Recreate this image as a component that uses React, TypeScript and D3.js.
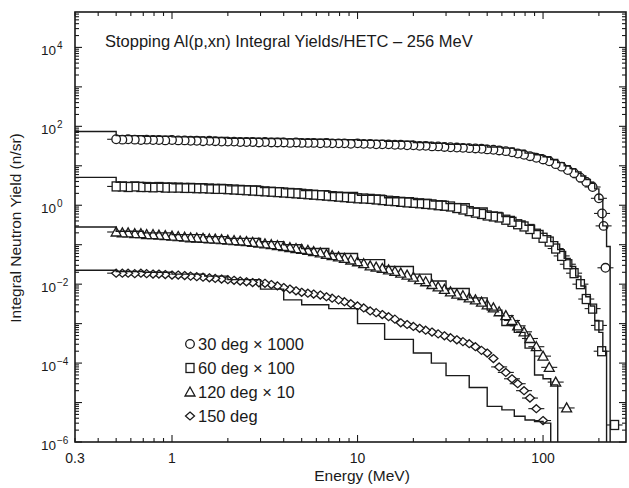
import React from 'react';
import * as d3 from 'd3';

// Stopping-target Al(p,xn) integral neutron yields at 256 MeV, measured vs. HETC

const WIDTH = 629;
const HEIGHT = 488;
const PLOT = { left: 75, right: 626, top: 12, bottom: 442 };

const X_DOMAIN = [0.3, 280];
const Y_DOMAIN = [1e-6, 7.9e4];

const X_TICK_LABELS = [0.3, 1, 10, 100];
const Y_TICK_EXPONENTS = [-6, -4, -2, 0, 2, 4];

// measured energy bins (MeV)
const ENERGY = [
  0.50, 0.54, 0.58, 0.63, 0.68, 0.73, 0.79, 0.85, 0.92, 1.0,
  1.08, 1.17, 1.26, 1.36, 1.47, 1.59, 1.71, 1.85, 2.0, 2.16,
  2.33, 2.52, 2.72, 2.94, 3.17, 3.43, 3.70, 4.0, 4.32, 4.66,
  5.0, 5.4, 5.8, 6.3, 6.8, 7.3, 7.9, 8.5, 9.2, 10,
  10.8, 11.7, 12.6, 13.6, 14.7, 15.9, 17.1, 18.5, 20, 21.6,
  23.3, 25.2, 27.2, 29.4, 31.7, 34.3, 37.0, 40, 43.2, 46.6,
  50, 54, 58, 63, 68, 73, 79, 85, 92, 100,
  108, 117, 126, 136, 147, 159, 171, 185, 200,
];

// 30 deg x 1000
const YIELD_30 = [
  47, 46, 47, 46, 45, 46, 45, 45, 44, 45,
  44, 44, 43, 43, 42, 43, 42, 41, 41, 41,
  40, 40, 40, 39, 40, 39, 39, 39, 38, 39,
  38, 38, 38, 37, 38, 37, 37, 37, 36, 37,
  36, 36, 35, 35, 35, 34, 34, 33, 33, 32,
  32, 31, 31, 30, 29.5, 29, 28.5, 28, 27.5, 27,
  26, 25.5, 24.5, 23.5, 22, 20.5, 19, 17.5, 16, 14.5,
  13, 11, 9.5, 7.8, 6.5, 5.0, 3.9, 2.9, 1.5,
];
const TAIL_30: [number, number][] = [[208, 0.62], [212, 0.3], [217, 0.026]];

// 60 deg x 100
const YIELD_60 = [
  3.0, 3.0, 2.9, 3.0, 2.9, 2.9, 2.85, 2.9, 2.8, 2.8,
  2.8, 2.75, 2.75, 2.7, 2.7, 2.65, 2.6, 2.6, 2.55, 2.5,
  2.45, 2.4, 2.35, 2.3, 2.25, 2.2, 2.15, 2.1, 2.05, 2.0,
  1.95, 1.9, 1.85, 1.8, 1.75, 1.7, 1.65, 1.6, 1.55, 1.5,
  1.48, 1.45, 1.4, 1.35, 1.3, 1.27, 1.22, 1.18, 1.15, 1.12,
  1.08, 1.05, 1.0, 0.97, 0.93, 0.85, 0.78, 0.71, 0.65, 0.60,
  0.55, 0.52, 0.49, 0.43, 0.38, 0.33, 0.29, 0.25, 0.19, 0.15,
  0.12, 0.08, 0.052, 0.032, 0.019, 0.010, 0.0042, 0.0024, 0.0009,
];
const TAIL_60: [number, number][] = [[207, 0.0002], [243, 2.7e-6]];

// 120 deg x 10
const YIELD_120 = [
  0.21, 0.20, 0.20, 0.19, 0.19, 0.18, 0.18, 0.175, 0.17, 0.165,
  0.16, 0.155, 0.15, 0.148, 0.145, 0.14, 0.138, 0.135, 0.13, 0.127,
  0.124, 0.12, 0.115, 0.11, 0.105, 0.10, 0.095, 0.09, 0.085, 0.08,
  0.076, 0.072, 0.067, 0.062, 0.057, 0.053, 0.049, 0.045, 0.041, 0.037,
  0.033, 0.029, 0.027, 0.025, 0.023, 0.021, 0.019, 0.017, 0.015, 0.013,
  0.0115, 0.0098, 0.0085, 0.0074, 0.0064, 0.0056, 0.0051, 0.0045, 0.0040, 0.0035,
  0.0030, 0.0025, 0.0020, 0.0016, 0.0012, 0.00088, 0.00062, 0.00042, 0.00026, 0.00015,
  0.000078, 0.000033,
];
const TAIL_120: [number, number][] = [[134, 7.3e-6]];

// 150 deg
const YIELD_150 = [
  0.019, 0.019, 0.019, 0.0185, 0.019, 0.0185, 0.018, 0.018, 0.0175, 0.017,
  0.017, 0.0165, 0.016, 0.0155, 0.015, 0.0145, 0.014, 0.0135, 0.013, 0.0125,
  0.012, 0.0115, 0.011, 0.0108, 0.0105, 0.0098, 0.0090, 0.0082, 0.0075, 0.0068,
  0.0062, 0.0059, 0.0056, 0.0053, 0.0048, 0.0044, 0.0040, 0.0036, 0.0032, 0.0028,
  0.0025, 0.0021, 0.0019, 0.0017, 0.0015, 0.0013, 0.00105, 0.00095, 0.00085, 0.00076,
  0.00068, 0.00061, 0.00055, 0.00049, 0.00044, 0.00039, 0.00035, 0.00031, 0.00026, 0.00021,
  0.00018, 0.00013, 0.000080, 0.000058, 0.000040, 0.000030, 0.000020, 0.000013, 0.000007, 0.0000035,
];
const TAIL_150: [number, number][] = [];

// HETC calculation, histogram bin edges (MeV)
const HIST_EDGES = [
  0.3, 0.5, 0.7, 1, 1.5, 2, 3, 4, 5, 7, 10, 14, 20, 25, 30, 40, 50, 60,
  70, 80, 90, 100, 110, 120, 130, 140, 150, 160, 170, 180, 190, 200, 210, 220, 230,
];
const HETC_30 = [
  74, 58, 56, 54, 52, 50, 49, 48, 47, 46,
  44, 42, 39, 37, 35, 33, 30, 28, 25, 21,
  19, 17, 14.5, 12, 10, 8.5, 7, 5.5, 4.5, 3.6,
  2.6, 1.4, 0.3, 0.09,
];
const HETC_60 = [
  5.1, 3.8, 3.6, 3.5, 3.3, 3.1, 2.8, 2.6, 2.35, 2.1,
  1.8, 1.55, 1.4, 1.28, 1.1, 0.85, 0.66, 0.52, 0.40, 0.31,
  0.23, 0.17, 0.12, 0.075, 0.045, 0.028, 0.016, 0.009, 0.0048, 0.0028,
  0.0012, 0.0006, 0.0002,
];
const HETC_120 = [
  0.28, 0.22, 0.20, 0.18, 0.16, 0.145, 0.12, 0.10, 0.08, 0.06,
  0.042, 0.028, 0.018, 0.012, 0.0078, 0.0045, 0.0022, 0.0009, 0.0006, 0.00024,
  0.00005, 0.00004, 0.000028,
];
const HETC_150 = [
  0.0225, 0.021, 0.020, 0.018, 0.016, 0.013, 0.0075, 0.004, 0.003, 0.0024,
  0.001, 0.0004, 0.00018, 0.0001, 0.000048, 0.000024, 0.000008, 0.0000065, 0.0000045, 0.0000036,
  0.0000033, 0.000003,
];

const LEGEND_LABELS = ['30 deg \u00d7 1000', '60 deg \u00d7 100', '120 deg \u00d7 10', '150 deg'];

type Shape = 'circle' | 'square' | 'triangle' | 'diamond';

const SERIES: { shape: Shape; values: number[]; tail: [number, number][]; hetc: number[]; barFrom: number }[] = [
  { shape: 'circle', values: YIELD_30, tail: TAIL_30, hetc: HETC_30, barFrom: 126 },
  { shape: 'square', values: YIELD_60, tail: TAIL_60, hetc: HETC_60, barFrom: 117 },
  { shape: 'triangle', values: YIELD_120, tail: TAIL_120, hetc: HETC_120, barFrom: 63 },
  { shape: 'diamond', values: YIELD_150, tail: TAIL_150, hetc: HETC_150, barFrom: 58 },
];

const INK = '#1a1a1a';
const FONT = '"Liberation Sans", Arial, sans-serif';

function Marker({ shape, cx, cy }: { shape: Shape; cx: number; cy: number }) {
  const common = { fill: '#fff', stroke: INK, strokeWidth: 1.3 };
  if (shape === 'circle') return <circle cx={cx} cy={cy} r={4.3} {...common} />;
  if (shape === 'square') return <rect x={cx - 4} y={cy - 4.5} width={8} height={9} {...common} />;
  if (shape === 'triangle')
    return <path d={`M${cx},${cy - 5}L${cx + 5},${cy + 4}L${cx - 5},${cy + 4}Z`} {...common} />;
  return <path d={`M${cx},${cy - 4}L${cx + 4.5},${cy}L${cx},${cy + 4}L${cx - 4.5},${cy}Z`} {...common} />;
}

export default function App() {
  const x = d3.scaleLog().domain(X_DOMAIN).range([PLOT.left, PLOT.right]);
  const y = d3.scaleLog().domain(Y_DOMAIN).range([PLOT.bottom, PLOT.top]);

  const stepPath = (vals: number[]) => {
    let d = `M${x(HIST_EDGES[0])},${y(vals[0])}`;
    vals.forEach((v, i) => {
      if (i > 0) d += `V${y(v)}`;
      d += `H${x(HIST_EDGES[i + 1])}`;
    });
    d += `V${PLOT.bottom}`;
    return d;
  };

  // axis ticks
  const xMinor: number[] = [];
  const xMajor: number[] = [];
  for (let dec = -1; dec <= 2; dec++) {
    for (let m = 1; m <= 9; m++) {
      const v = m * Math.pow(10, dec);
      if (v < X_DOMAIN[0] || v > X_DOMAIN[1]) continue;
      (m === 1 ? xMajor : xMinor).push(v);
    }
  }
  const yMinor: number[] = [];
  const yMajor: number[] = [];
  for (let dec = -6; dec <= 4; dec++) {
    for (let m = 1; m <= 9; m++) {
      const v = m * Math.pow(10, dec);
      if (v < Y_DOMAIN[0] || v > Y_DOMAIN[1]) continue;
      (m === 1 ? yMajor : yMinor).push(v);
    }
  }

  const tickLines: JSX.Element[] = [];
  xMinor.forEach((v, i) => {
    const px = x(v);
    tickLines.push(<line key={`xb${i}`} x1={px} x2={px} y1={PLOT.bottom} y2={PLOT.bottom - 4} />);
    tickLines.push(<line key={`xt${i}`} x1={px} x2={px} y1={PLOT.top} y2={PLOT.top + 4} />);
  });
  xMajor.forEach((v, i) => {
    const px = x(v);
    tickLines.push(<line key={`xB${i}`} x1={px} x2={px} y1={PLOT.bottom} y2={PLOT.bottom - 7} />);
    tickLines.push(<line key={`xT${i}`} x1={px} x2={px} y1={PLOT.top} y2={PLOT.top + 7} />);
  });
  yMinor.forEach((v, i) => {
    const py = y(v);
    tickLines.push(<line key={`yl${i}`} x1={PLOT.left} x2={PLOT.left + 4} y1={py} y2={py} />);
    tickLines.push(<line key={`yr${i}`} x1={PLOT.right} x2={PLOT.right - 4} y1={py} y2={py} />);
  });
  yMajor.forEach((v, i) => {
    const py = y(v);
    tickLines.push(<line key={`yL${i}`} x1={PLOT.left} x2={PLOT.left + 7} y1={py} y2={py} />);
    tickLines.push(<line key={`yR${i}`} x1={PLOT.right} x2={PLOT.right - 7} y1={py} y2={py} />);
  });

  const legendRows = [344, 368, 392, 416];

  return (
    <svg
      width={WIDTH}
      height={HEIGHT}
      viewBox={`0 0 ${WIDTH} ${HEIGHT}`}
      style={{ position: 'absolute', left: 0, top: 0, background: '#fff' }}
      fontFamily={FONT}
    >
      <rect x={0} y={0} width={WIDTH} height={HEIGHT} fill="#fff" />

      {/* markers, drawn right-to-left so lower-energy symbols sit on top */}
      {SERIES.map((s, si) => {
        const pts: [number, number][] = s.values
          .map((v, i) => [ENERGY[i], v] as [number, number])
          .concat(s.tail);
        return (
          <g key={`m${si}`}>
            {pts.map(([e, v], i) =>
              e >= s.barFrom || i === 0 ? (
                <line
                  key={`b${i}`}
                  x1={x(e) - (i === 0 ? 9 : 8)}
                  x2={i === 0 ? x(e) : x(e) + 8}
                  y1={y(v)}
                  y2={y(v)}
                  stroke={INK}
                  strokeWidth={1.1}
                />
              ) : null
            )}
            {pts
              .slice()
              .reverse()
              .map(([e, v], i) => (
                <Marker key={i} shape={s.shape} cx={x(e)} cy={y(v)} />
              ))}
          </g>
        );
      })}

      {/* HETC histograms */}
      {SERIES.map((s, si) => (
        <path key={`h${si}`} d={stepPath(s.hetc)} fill="none" stroke={INK} strokeWidth={1.4} />
      ))}

      {/* frame and ticks */}
      <g stroke={INK} strokeWidth={1.1}>{tickLines}</g>
      <rect
        x={PLOT.left}
        y={PLOT.top}
        width={PLOT.right - PLOT.left}
        height={PLOT.bottom - PLOT.top}
        fill="none"
        stroke={INK}
        strokeWidth={1.6}
      />

      {/* tick labels */}
      {X_TICK_LABELS.map((v) => (
        <text key={`xl${v}`} x={x(v)} y={PLOT.bottom + 21} textAnchor="middle" fontSize={14} fill={INK}>
          {v}
        </text>
      ))}
      {Y_TICK_EXPONENTS.map((p) => {
        const py = y(Math.pow(10, p));
        return (
          <g key={`yl${p}`} fill={INK}>
            <text x={56} y={py + 8} textAnchor="end" fontSize={13.5}>
              10
            </text>
            <text x={57} y={py + 2} fontSize={10}>
              {p < 0 ? `\u2212${-p}` : `${p}`}
            </text>
          </g>
        );
      })}

      {/* axis titles */}
      <text x={362} y={481} textAnchor="middle" fontSize={15.5} fill={INK}>
        Energy (MeV)
      </text>
      <text
        transform={`translate(21,${(PLOT.top + PLOT.bottom) / 2 + 1}) rotate(-90)`}
        textAnchor="middle"
        fontSize={15.5}
        fill={INK}
      >
        Integral Neutron Yield (n/sr)
      </text>

      {/* plot title */}
      <text x={105} y={47} fontSize={16.5} fill={INK}>
        Stopping Al(p,xn) Integral Yields/HETC {'\u2013'} 256 MeV
      </text>

      {/* legend */}
      {SERIES.map((s, i) => (
        <g key={`lg${i}`}>
          <Marker shape={s.shape} cx={190} cy={legendRows[i]} />
          <text x={198} y={legendRows[i] + 6} fontSize={16.5} fill={INK}>
            {LEGEND_LABELS[i]}
          </text>
        </g>
      ))}
    </svg>
  );
}
